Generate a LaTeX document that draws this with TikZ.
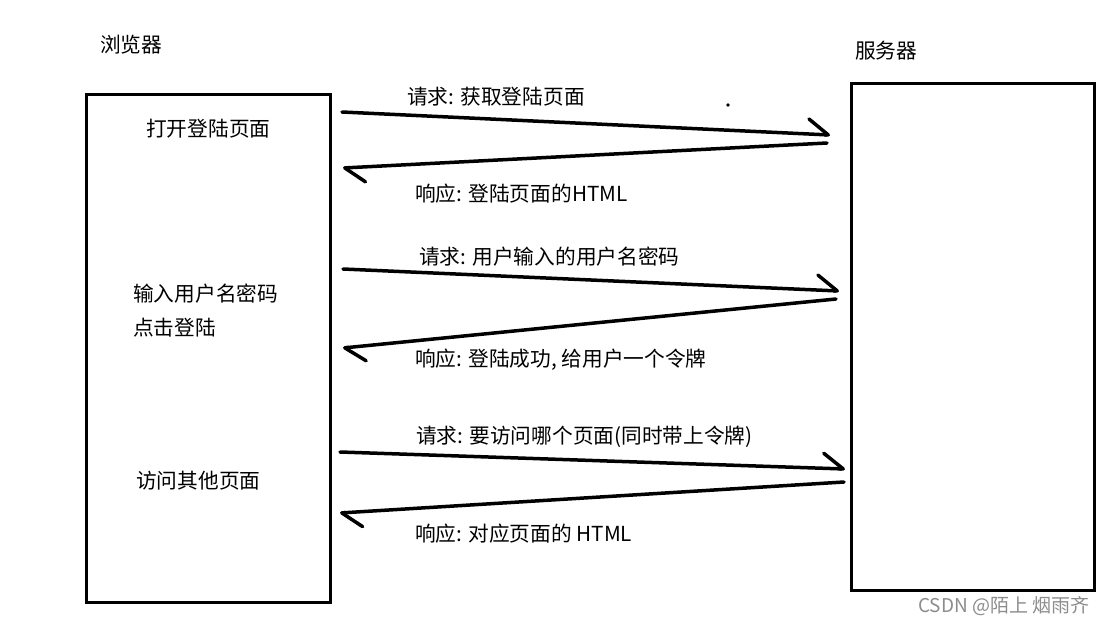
\documentclass[tikz,border=0pt]{standalone}
\usepackage{fontspec}
\setmainfont{Noto Sans CJK SC}
\usetikzlibrary{arrows.meta}
\begin{document}
\begin{tikzpicture}[x=1pt,y=-1pt,
  box/.style={draw=black,line width=3pt,fill=white,inner sep=0pt,anchor=north west},
  lbl/.style={anchor=west,inner sep=0pt,font=\fontsize{20.7}{24}\selectfont},
  msg/.style={line width=3.5pt,line cap=round,-{Straight Barb[harpoon,length=20pt,width=30pt,line width=3.5pt,round]}},
  wm/.style={anchor=west,inner sep=0pt,text=black!45,font=\fontsize{19}{22}\selectfont}]
\useasboundingbox[fill=white] (0,0) rectangle (1111,623);
% boxes
\node[box,minimum width=244pt,minimum height=508pt] (browser) at (85,93) {};
\node[box,minimum width=243pt,minimum height=507pt] (server) at (850,82) {};
% titles
\node[lbl] (tb) at (100,45) {浏览器};
\node[lbl] (ts) at (855,51) {服务器};
% browser actions
\node[lbl] (a1) at (146,129) {打开登陆页面};
\node[lbl] (a2) at (133,294) {输入用户名密码};
\node[lbl] (a3) at (133,328) {点击登陆};
\node[lbl] (a4) at (136,481) {访问其他页面};
% message labels
\node[lbl] (m1) at (407,97) {请求: 获取登陆页面};
\node[lbl] (m2) at (415,194) {响应: 登陆页面的HTML};
\node[lbl] (m3) at (419,257) {请求: 用户输入的用户名密码};
\node[lbl] (m4) at (415,360) {响应: 登陆成功, 给用户一个令牌};
\node[lbl] (m5) at (416,437) {请求: 要访问哪个页面(同时带上令牌)};
\node[lbl] (m6) at (415,534) {响应: 对应页面的 HTML};
% arrow end points
\coordinate (r1s) at (342,112); \coordinate (r1e) at (830,135);
\coordinate (s1s) at (827,143); \coordinate (s1e) at (343,168);
\coordinate (r2s) at (343,269); \coordinate (r2e) at (839,291);
\coordinate (s2s) at (836,299); \coordinate (s2e) at (343,348);
\coordinate (r3s) at (340,452); \coordinate (r3e) at (845,469);
\coordinate (s3s) at (844,482); \coordinate (s3e) at (340,513);
\draw[msg] (r1s) -- (r1e);
\draw[msg] (s1s) -- (s1e);
\draw[msg] (r2s) -- (r2e);
\draw[msg] (s2s) -- (s2e);
\draw[msg] (r3s) -- (r3e);
\draw[msg] (s3s) -- (s3e);
% stray dot
\fill (728,105) circle (1.8pt);
% watermark
\node[wm] (w) at (918,606) {CSDN @陌上 烟雨齐};
\end{tikzpicture}
\end{document}
